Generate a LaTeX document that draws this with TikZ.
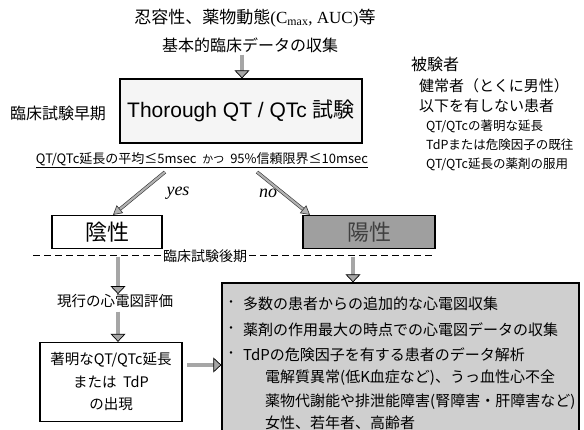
\documentclass[tikz,border=0pt]{standalone}
\usepackage{fontspec}
\setmainfont{Liberation Serif}
\newfontfamily\jp{Noto Sans CJK JP}
\newfontfamily\arial{Liberation Sans}
\usetikzlibrary{arrows.meta}
\newcommand{\fsz}[1]{\fontsize{#1}{#1}\selectfont}
\begin{document}
\begin{tikzpicture}[x=1pt,y=-1pt,
  txt/.style={inner sep=0pt, font=\jp\fsz{#1}},
  txt/.default=14,
  boxw/.style={draw=black, line width=1.3pt, inner sep=0pt},
  blockarr/.style={draw=black, line width=0.7pt, double=gray!70, double distance=3.5pt,
     -{Triangle[length=8pt,width=15pt,fill=gray!70]}},
  diagarr/.style={draw=black!80, line width=0.6pt, double=gray!60, double distance=2.2pt,
     -{Triangle[length=9pt,width=10pt,fill=gray!60]}},
  dashline/.style={draw=black, line width=1pt, dash pattern=on 7pt off 4pt}
]
\useasboundingbox (0,0) rectangle (584,430);

% top texts
\node[txt=17] (top1) at (255,18) {忍容性、薬物動態{\rmfamily (C\textsubscript{max}, AUC)}等};
\node[txt=16] (top2) at (250,45) {基本的臨床データの収集};

% Thorough QT box
\node[boxw, fill=gray!8, minimum width=242pt, minimum height=64pt, font=\jp\fsz{21}] (tqt) at (241,111)
  {{\arial Thorough QT / QTc }試験};
\coordinate (t0) at (242,55);
\draw[blockarr] (t0) -- (t0 |- tqt.north);

\node[txt=16] (early) at (58,113) {臨床試験早期};

% criterion
\node[txt=13] (crit) at (202,160)
  {\underline{QT/QTc延長の平均≤5msec\ \ {\fsz{11}かつ}\ \ 95\%信頼限界≤10msec}};

% subjects column
\node[txt=16, anchor=west] (subj) at (411,64) {被験者};
\node[txt=15, anchor=west] (h1) at (419,86) {健常者（とくに男性）};
\node[txt=15, anchor=west] (h2) at (419,106) {以下を有しない患者};
\node[txt=12.5, anchor=west] (s1) at (426,126) {QT/QTcの著明な延長};
\node[txt=12.5, anchor=west] (s2) at (426,145) {TdPまたは危険因子の既往};
\node[txt=12.5, anchor=west] (s3) at (426,164) {QT/QTc延長の薬剤の服用};

% negative / positive boxes
\node[boxw, fill=white, minimum width=110pt, minimum height=33pt, font=\jp\fsz{22}] (neg) at (107,232) {陰性};
\node[boxw, fill=gray!75, text=black!75, minimum width=132pt, minimum height=33pt, font=\jp\fsz{22}] (pos) at (369,232) {陽性};

\coordinate (ys) at (165,172);
\coordinate (ns) at (257,172);
\draw[diagarr] (ys) -- ([xshift=6pt]neg.north);
\draw[diagarr] (ns) -- ([xshift=-59pt]pos.north);
\node[inner sep=0pt, font=\rmfamily\itshape\fsz{18}] (yes) at (178,193) {yes};
\node[inner sep=0pt, font=\rmfamily\itshape\fsz{18}] (no) at (268,193) {no};

% dashed separator
\node[txt=14, fill=white, inner xsep=2pt] (late) at (205,256) {臨床試験後期};
\coordinate (dl) at (33,256);
\coordinate (dr) at (433,256);
\draw[dashline] (dl) -- (late.west);
\draw[dashline] (late.east) -- (dr);

% left branch
\node[txt=14.5] (cur) at (115,301) {現行の心電図評価};
\node[boxw, fill=white, minimum width=142pt, minimum height=79pt, align=center,
      font=\jp\fsz{14.5}] (sig) at (111,382)
  {著明なQT/QTc延長\\[8pt]または\ \ TdP\\[8pt]の出現};
\coordinate (d1) at (118,257);
\draw[blockarr] (d1) -- (d1 |- cur.north);
\coordinate (d2) at (118,312);
\draw[blockarr] (d2) -- (d2 |- sig.north);

% big gray box
\node[boxw, fill=gray!38, minimum width=357pt, minimum height=148pt] (big) at (400.5,357) {};
\coordinate (d3) at (353,257);
\draw[blockarr] (d3) -- (d3 |- big.north);
\coordinate (ha) at (187,365);
\draw[blockarr] (ha) -- (big.west |- ha);

\node[txt=15, anchor=west] (b1) at (243,304) {多数の患者からの追加的な心電図収集};
\node[txt=15, anchor=west] (b2) at (243,330) {薬剤の作用最大の時点での心電図データの収集};
\node[txt=15, anchor=west] (b3) at (243,355) {TdPの危険因子を有する患者のデータ解析};
\node[txt=12] (p1) at (231,304) {・};
\node[txt=12] (p2) at (231,330) {・};
\node[txt=12] (p3) at (231,355) {・};
\node[txt=15, anchor=west] (b4) at (265,378) {電解質異常(低K血症など)、うっ血性心不全};
\node[txt=15, anchor=west] (b5) at (265,402) {薬物代謝能や排泄能障害(腎障害・肝障害など)};
\node[txt=15, anchor=west] (b6) at (265,423) {女性、若年者、高齢者};
\end{tikzpicture}
\end{document}
